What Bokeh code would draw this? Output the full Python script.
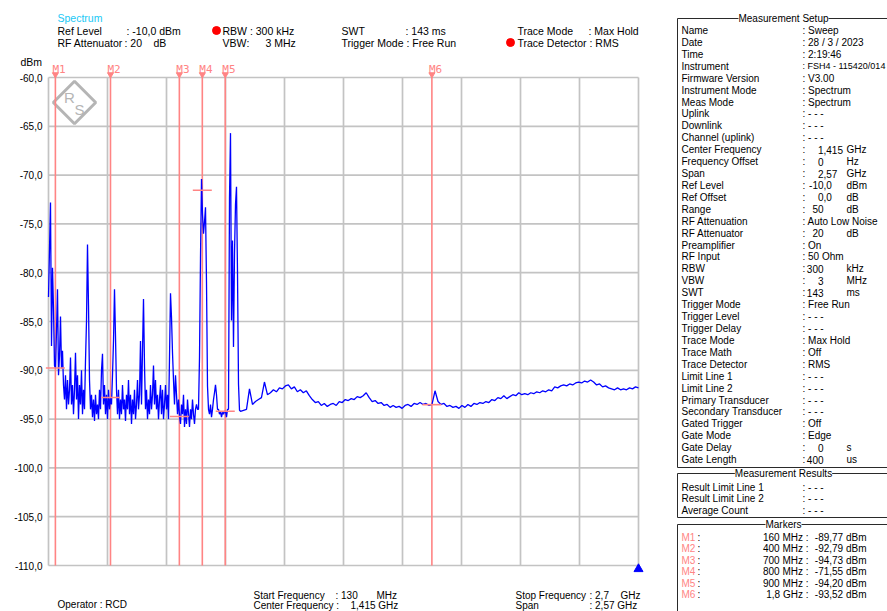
import numpy as np
from bokeh.plotting import figure
from bokeh.models import Range1d, Label
from bokeh.embed import file_html
from bokeh.resources import INLINE
from bokeh.core.properties import value

# ---------------- data ----------------
START_MHZ = 130.0
STOP_MHZ = 2700.0
SWEEP_POINTS = 591
TOP_DBM = -60.0
BOTTOM_DBM = -110.0
Y_TICKS = [-60, -65, -70, -75, -80, -85, -90, -95, -100, -105, -110]
X_DIVISIONS = 10

# trace, full resolution from 130 MHz to ~966 MHz
level_low = [
    -82.5, -77.6, -72.8, -87.5, -79.5, -83.7, -89.5, -89.8, -86.0, -81.7,
    -90.5, -88.5, -84.5, -89.8, -88.0, -91.5, -93.0, -90.5, -94.0, -91.0,
    -93.5, -92.0, -88.7, -93.5, -91.5, -94.5, -92.0, -88.2, -93.0, -90.5,
    -95.0, -91.5, -93.5, -90.0, -94.5, -92.0, -94.0, -89.0, -85.0, -77.1,
    -83.3, -91.0, -94.0, -92.5, -94.8, -93.0, -95.2, -92.5, -94.5, -93.5,
    -95.0, -92.0, -94.0, -90.0, -88.3, -93.5, -91.5, -94.5, -92.5, -95.0,
    -92.0, -94.0, -92.8, -93.5, -90.5, -87.0, -81.7, -86.5, -92.0, -94.5,
    -92.0, -95.0, -93.0, -94.5, -91.5, -94.0, -93.0, -95.2, -92.5, -94.0,
    -91.0, -94.5, -92.5, -95.5, -93.0, -94.5, -92.0, -95.0, -93.5, -91.0,
    -94.0, -92.5, -87.0, -93.5, -88.0, -82.7, -89.5, -94.0, -92.0, -95.0,
    -93.0, -94.5, -91.5, -94.0, -92.5, -89.5, -93.5, -91.0, -94.0, -92.5,
    -95.0, -93.0, -91.5, -94.5, -92.0, -95.0, -93.5, -91.5, -94.0, -92.5,
    -95.0, -88.7, -82.1, -84.6, -88.2, -91.0, -93.5, -90.5, -92.5, -94.5,
    -93.0, -94.7, -95.5, -93.5, -94.5, -92.5, -95.8, -94.0, -95.5, -93.0,
    -94.5, -95.8, -94.0, -95.0, -93.0, -94.5, -95.5, -94.0, -93.5, -94.0,
    -94.0, -88.7, -78.5, -70.4, -74.0, -76.0, -74.8, -73.3, -81.0, -91.6,
    -94.0, -94.5, -93.5, -94.8, -94.0, -93.0, -92.3, -91.5, -92.5, -94.0,
    -94.0, -94.5, -94.2, -94.8, -94.3, -94.5, -94.2, -94.2, -94.8, -94.0,
    -94.0, -72.3, -65.7, -84.9, -76.7, -87.6, -78.0, -73.0, -71.2, -80.0,
    -91.4, -94.1, -94.2,
]

# trace, every third sweep point from ~979 MHz to 2.7 GHz
level_high = [
    -94.1, -94.0, -91.9, -93.5, -93.2, -93.0, -92.8, -91.2, -92.5, -92.3,
    -92.0, -92.2, -91.8, -91.9, -91.6, -91.5, -91.9, -91.7, -92.2, -92.0,
    -92.3, -92.1, -92.6, -93.0, -93.3, -93.2, -93.6, -93.4, -93.7, -93.5,
    -93.4, -93.6, -93.2, -93.3, -93.0, -93.1, -92.9, -93.0, -92.7, -92.8,
    -92.6, -92.3, -92.8, -93.2, -93.1, -93.4, -93.3, -93.6, -93.5, -93.8,
    -93.6, -93.8, -93.7, -93.9, -93.6, -93.5, -93.7, -93.4, -93.5, -93.3,
    -93.5, -93.4, -93.6, -93.5, -92.1, -93.2, -93.5, -93.4, -93.7, -93.6,
    -93.8, -93.7, -93.9, -93.6, -93.8, -93.5, -93.7, -93.4, -93.5, -93.3,
    -93.4, -93.2, -93.3, -93.0, -93.1, -92.8, -92.9, -92.6, -92.9, -92.7,
    -92.5, -92.6, -92.3, -92.5, -92.4, -92.5, -92.3, -92.4, -92.2, -92.3,
    -92.1, -92.2, -92.0, -92.1, -91.7, -91.8, -91.6, -91.5, -91.6, -91.4,
    -91.5, -91.3, -91.2, -91.3, -91.1, -91.2, -91.0, -91.2, -91.5, -91.4,
    -91.7, -91.6, -91.8, -91.9, -92.0, -91.8, -92.0, -91.9, -92.0, -91.8,
    -91.9, -91.7, -91.8,
]

marker_names = ["M1", "M2", "M3", "M4", "M5", "M6"]
marker_freq = [160, 400, 700, 800, 900, 1800]          # MHz
marker_level = [-89.77, -92.79, -94.73, -71.55, -94.20, -93.52]  # dBm

setup_rows = [
    ("Name", "Sweep"), ("Date", "28 / 3 / 2023"), ("Time", "2:19:46"),
    ("Instrument", "FSH4 - 115420/014"), ("Firmware Version", "V3.00"),
    ("Instrument Mode", "Spectrum"), ("Meas Mode", "Spectrum"),
    ("Uplink", "- - -"), ("Downlink", "- - -"), ("Channel (uplink)", "- - -"),
    ("Center Frequency", ("1,415", "GHz")), ("Frequency Offset", ("0", "Hz")),
    ("Span", ("2,57", "GHz")), ("Ref Level", ("-10,0", "dBm")),
    ("Ref Offset", ("0,0", "dB")), ("Range", ("50", "dB")),
    ("RF Attenuation", "Auto Low Noise"), ("RF Attenuator", ("20", "dB")),
    ("Preamplifier", "On"), ("RF Input", "50 Ohm"), ("RBW", ("300", "kHz")),
    ("VBW", ("3", "MHz")), ("SWT", ("143", "ms")), ("Trigger Mode", "Free Run"),
    ("Trigger Level", "- - -"), ("Trigger Delay", "- - -"),
    ("Trace Mode", "Max Hold"), ("Trace Math", "Off"), ("Trace Detector", "RMS"),
    ("Limit Line 1", "- - -"), ("Limit Line 2", "- - -"),
    ("Primary Transducer", "- - -"), ("Secondary Transducer", "- - -"),
    ("Gated Trigger", "Off"), ("Gate Mode", "Edge"), ("Gate Delay", ("0", "s")),
    ("Gate Length", ("400", "us")),
]
result_rows = [("Result Limit Line 1", "- - -"), ("Result Limit Line 2", "- - -"),
               ("Average Count", "- - -")]

# ---------------- layout / styling ----------------
FONT = "Liberation Sans"
FS_HEAD = "10.5px"
FS_FOOT = "10px"
FS_SIDE = "10px"
GRID = "#c3c3c3"
MRED = "#ff8484"
TRACE = "#0000ff"

# page pixel frame and spectrum area (page coordinates, y downwards)
CANVAS_L, CANVAS_R, CANVAS_T, CANVAS_B = 0, 887, 0, 611
PLOT_L, PLOT_R, PLOT_T, PLOT_B = 48, 638, 77, 565
KX = (STOP_MHZ - START_MHZ) / (PLOT_R - PLOT_L)
KY = (TOP_DBM - BOTTOM_DBM) / (PLOT_B - PLOT_T)

step = (STOP_MHZ - START_MHZ) / (SWEEP_POINTS - 1)
freq_low = START_MHZ + step * np.arange(len(level_low))
freq_high = np.linspace(freq_low[-1] + 3 * step, STOP_MHZ, len(level_high))
freq = np.concatenate([freq_low, freq_high])
level = np.array(level_low + level_high)

p = figure(width=CANVAS_R - CANVAS_L, height=CANVAS_B - CANVAS_T,
           x_range=Range1d(CANVAS_L, CANVAS_R), y_range=Range1d(CANVAS_B, CANVAS_T),
           output_backend="svg", toolbar_location=None, min_border=0,
           x_axis_type=None, y_axis_type=None, outline_line_color=None,
           background_fill_color="white", border_fill_color="white")
p.title.visible = False
p.grid.visible = False
p.extra_x_ranges = {"spec": Range1d(START_MHZ - (PLOT_L - CANVAS_L) * KX,
                                    STOP_MHZ + (CANVAS_R - PLOT_R) * KX)}
p.extra_y_ranges = {"spec": Range1d(BOTTOM_DBM - (CANVAS_B - PLOT_B) * KY,
                                    TOP_DBM + (PLOT_T - CANVAS_T) * KY)}
SP = dict(x_range_name="spec", y_range_name="spec")

# grid
x_grid = list(np.linspace(START_MHZ, STOP_MHZ, X_DIVISIONS + 1))
p.segment(x0=x_grid, y0=[BOTTOM_DBM] * len(x_grid), x1=x_grid, y1=[TOP_DBM] * len(x_grid),
          line_color=GRID, line_width=1.7, **SP)
p.segment(x0=[START_MHZ] * len(Y_TICKS), y0=Y_TICKS, x1=[STOP_MHZ] * len(Y_TICKS), y1=Y_TICKS,
          line_color=GRID, line_width=1.7, **SP)
p.text(x=[START_MHZ] * len(Y_TICKS), y=Y_TICKS,
       text=[f"{t:.1f}".replace(".", ",") for t in Y_TICKS],
       x_offset=-6, text_align="right", text_baseline="middle",
       text_font=value(FONT), text_font_size="10px", text_color="black", **SP)

# R&S logo (decoration)
p.scatter(x=[74], y=[102], marker="square", angle=np.pi / 4, size=30,
          fill_color=None, line_color="#b5b5b5", line_width=3)
p.text(x=[69, 79], y=[97, 109], text=["R", "S"], text_font=value(FONT),
       text_font_size="15px", text_color="#b5b5b5", text_align="center", text_baseline="middle")

# marker lines
p.segment(x0=marker_freq, y0=[BOTTOM_DBM] * 6, x1=marker_freq, y1=[TOP_DBM] * 6,
          line_color=MRED, line_width=1.6, **SP)

# trace
p.line(freq, level, line_color=TRACE, line_width=1.3, **SP)

# marker positions
p.scatter(marker_freq, marker_level, marker="dash", size=19, line_color=MRED,
          line_width=1.6, **SP)
p.scatter(marker_freq, [TOP_DBM + 3 * KY] * 6, marker="inverted_triangle", size=6,
          fill_color=MRED, line_color=MRED, **SP)
p.text(x=marker_freq, y=[TOP_DBM + 8.5 * KY] * 6, text=marker_names, x_offset=-3,
       text_align="left", text_baseline="middle", text_font=value("DejaVu Sans Mono"),
       text_font_size="11px", text_color=MRED, **SP)
# sweep end marker
p.scatter([STOP_MHZ], [BOTTOM_DBM - 3.5 * KY], marker="triangle", size=9,
          fill_color=TRACE, line_color=TRACE, **SP)

# ---------------- texts in page pixels ----------------
tx, ty, tt, ta, tc, tf = [], [], [], [], [], []


def put(x, y, t, a="left", c="black", f=FS_HEAD):
    tx.append(x); ty.append(y); tt.append(t); ta.append(a); tc.append(c); tf.append(f)


# header
put(20, 61, "dBm")
put(57, 17, "Spectrum", c="#19c8f5")
put(57, 30, "Ref Level"); put(126, 30, ": -10,0 dBm")
put(57, 42, "RF Attenuator"); put(124, 42, ": 20"); put(153, 42, "dB")
put(222, 30, "RBW : 300 kHz")
put(222, 42, "VBW"); put(246, 42, ":"); put(265, 42, "3 MHz")
put(341, 30, "SWT"); put(405, 30, ": 143 ms")
put(341, 42, "Trigger Mode : Free Run")
put(517, 30, "Trace Mode"); put(588, 30, ": Max Hold")
put(517, 42, "Trace Detector : RMS")
p.scatter(x=[216, 510], y=[30, 42], marker="circle", size=8, fill_color="red", line_color="red")

# footer
put(253, 595, "Start Frequency", f=FS_FOOT); put(335, 595, ": 130", f=FS_FOOT)
put(376, 595, "MHz", f=FS_FOOT)
put(515, 595, "Stop Frequency", f=FS_FOOT); put(589, 595, ": 2,7", f=FS_FOOT)
put(620, 595, "GHz", f=FS_FOOT)
put(57, 604, "Operator : RCD", f=FS_FOOT)
put(253, 604.5, "Center Frequency :", f=FS_FOOT); put(350, 604.5, "1,415 GHz", f=FS_FOOT)
put(515, 604.5, "Span", f=FS_FOOT); put(589, 604.5, ": 2,57 GHz", f=FS_FOOT)

# side panel
p.multi_line(xs=[[887, 677, 677, 887], [887, 677, 677, 887], [887, 677, 677]],
             ys=[[18, 18, 467, 467], [473, 473, 517, 517], [524, 524, 612]],
             line_color="#2a2a2a", line_width=1)
for title, yy in (("Measurement Setup", 18), ("Measurement Results", 473), ("Markers", 524)):
    p.add_layout(Label(x=783, y=yy, text=title, text_align="center", text_baseline="middle",
                       text_font=FONT, text_font_size=FS_SIDE, text_color="black",
                       background_fill_color="white"))

ROW0, DY = 30.0, 11.92
for i, (name, val) in enumerate(setup_rows):
    yy = ROW0 + DY * i
    put(681, yy, name, f=FS_SIDE)
    if isinstance(val, tuple):
        num, unit = val
        put(802, yy, ":", f=FS_SIDE)
        if "," in num:
            ip, fp = num.split(",")
            put(823, yy, ip, a="right", f=FS_SIDE)
            put(823, yy, "," + fp, f=FS_SIDE)
        else:
            put(823, yy, num, a="right", f=FS_SIDE)
        put(846, yy, unit, f=FS_SIDE)
    else:
        fs = "9px" if len(val) > 15 else FS_SIDE
        put(802, yy, ": " + val, f=fs)

for i, (name, val) in enumerate(result_rows):
    yy = 486.5 + 11.5 * i
    put(681, yy, name, f=FS_SIDE)
    put(802, yy, ": " + val, f=FS_SIDE)

for i, (name, fr, lv) in enumerate(zip(marker_names, marker_freq, marker_level)):
    yy = 536.5 + 11.5 * i
    ftxt = (f"{fr / 1000:g}".replace(".", ",") + " GHz :") if fr >= 1000 else f"{fr} MHz :"
    put(681, yy, name, c=MRED, f=FS_SIDE)
    put(697, yy, ":", f=FS_SIDE)
    put(808, yy, ftxt, a="right", f=FS_SIDE)
    put(866, yy, f"{lv:.2f}".replace(".", ",") + " dBm", a="right", f=FS_SIDE)

p.text(x=tx, y=ty, text=tt, text_align=ta, text_color=tc, text_font_size=tf,
       text_baseline="middle", text_font=value(FONT))

open("out.html", "w").write(file_html(p, INLINE))
